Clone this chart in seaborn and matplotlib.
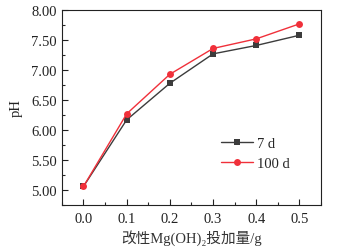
import pandas as pd
import matplotlib.pyplot as plt
import seaborn as sns
from matplotlib.ticker import MultipleLocator, FormatStrFormatter

# dosage of modified Mg(OH)2 (g) and pH after 7 d / 100 d
dosage = [0.0, 0.1, 0.2, 0.3, 0.4, 0.5]
ph_7d = [5.06, 6.17, 6.78, 7.27, 7.41, 7.58]
ph_100d = [5.06, 6.27, 6.93, 7.36, 7.52, 7.77]
series_names = ['7 d', '100 d']

df = pd.DataFrame({
    'dosage': dosage * 2,
    'pH': ph_7d + ph_100d,
    'time': [series_names[0]] * len(dosage) + [series_names[1]] * len(dosage),
})

sns.set_style('ticks')
plt.rcParams['font.family'] = ['Liberation Serif', 'Noto Sans CJK SC', 'DejaVu Serif']
plt.rcParams['xtick.direction'] = 'in'
plt.rcParams['ytick.direction'] = 'in'

fig = plt.figure(figsize=(3.38, 2.51), dpi=100)
ax = fig.add_axes([0.183, 0.179, 0.767, 0.777])

sns.lineplot(data=df, x='dosage', y='pH', hue='time', style='time',
             markers={'7 d': 's', '100 d': 'o'}, dashes=False,
             palette={'7 d': '#3c3c3c', '100 d': '#f0303a'},
             markersize=5, markeredgewidth=0, linewidth=1.0, ax=ax)

ax.set_xlim(-0.05, 0.55)
ax.set_ylim(4.75, 8.0)
ax.xaxis.set_major_locator(MultipleLocator(0.1))
ax.xaxis.set_minor_locator(MultipleLocator(0.05))
ax.yaxis.set_major_locator(MultipleLocator(0.5))
ax.yaxis.set_minor_locator(MultipleLocator(0.25))
ax.xaxis.set_major_formatter(FormatStrFormatter('%.1f'))
ax.yaxis.set_major_formatter(FormatStrFormatter('%.2f'))
ax.tick_params(which='major', length=4, width=0.8, labelsize=10.5, colors='#222222')
ax.tick_params(which='minor', length=2, width=0.8)
ax.tick_params(axis='x', pad=5)
for s in ax.spines.values():
    s.set_linewidth(0.8)
    s.set_color('#222222')

ax.set_xlabel('改性Mg(OH)₂投加量/g', fontsize=10.5, labelpad=3, color='#333333')
ax.set_ylabel('pH', fontsize=10.5, labelpad=6, color='#222222')

ax.legend(title=None, frameon=False, fontsize=10.5, loc='lower right',
          bbox_to_anchor=(0.93, 0.11), handlelength=2.2, handletextpad=0.3,
          labelspacing=0.5)

fig.savefig('out.png', dpi=100)
